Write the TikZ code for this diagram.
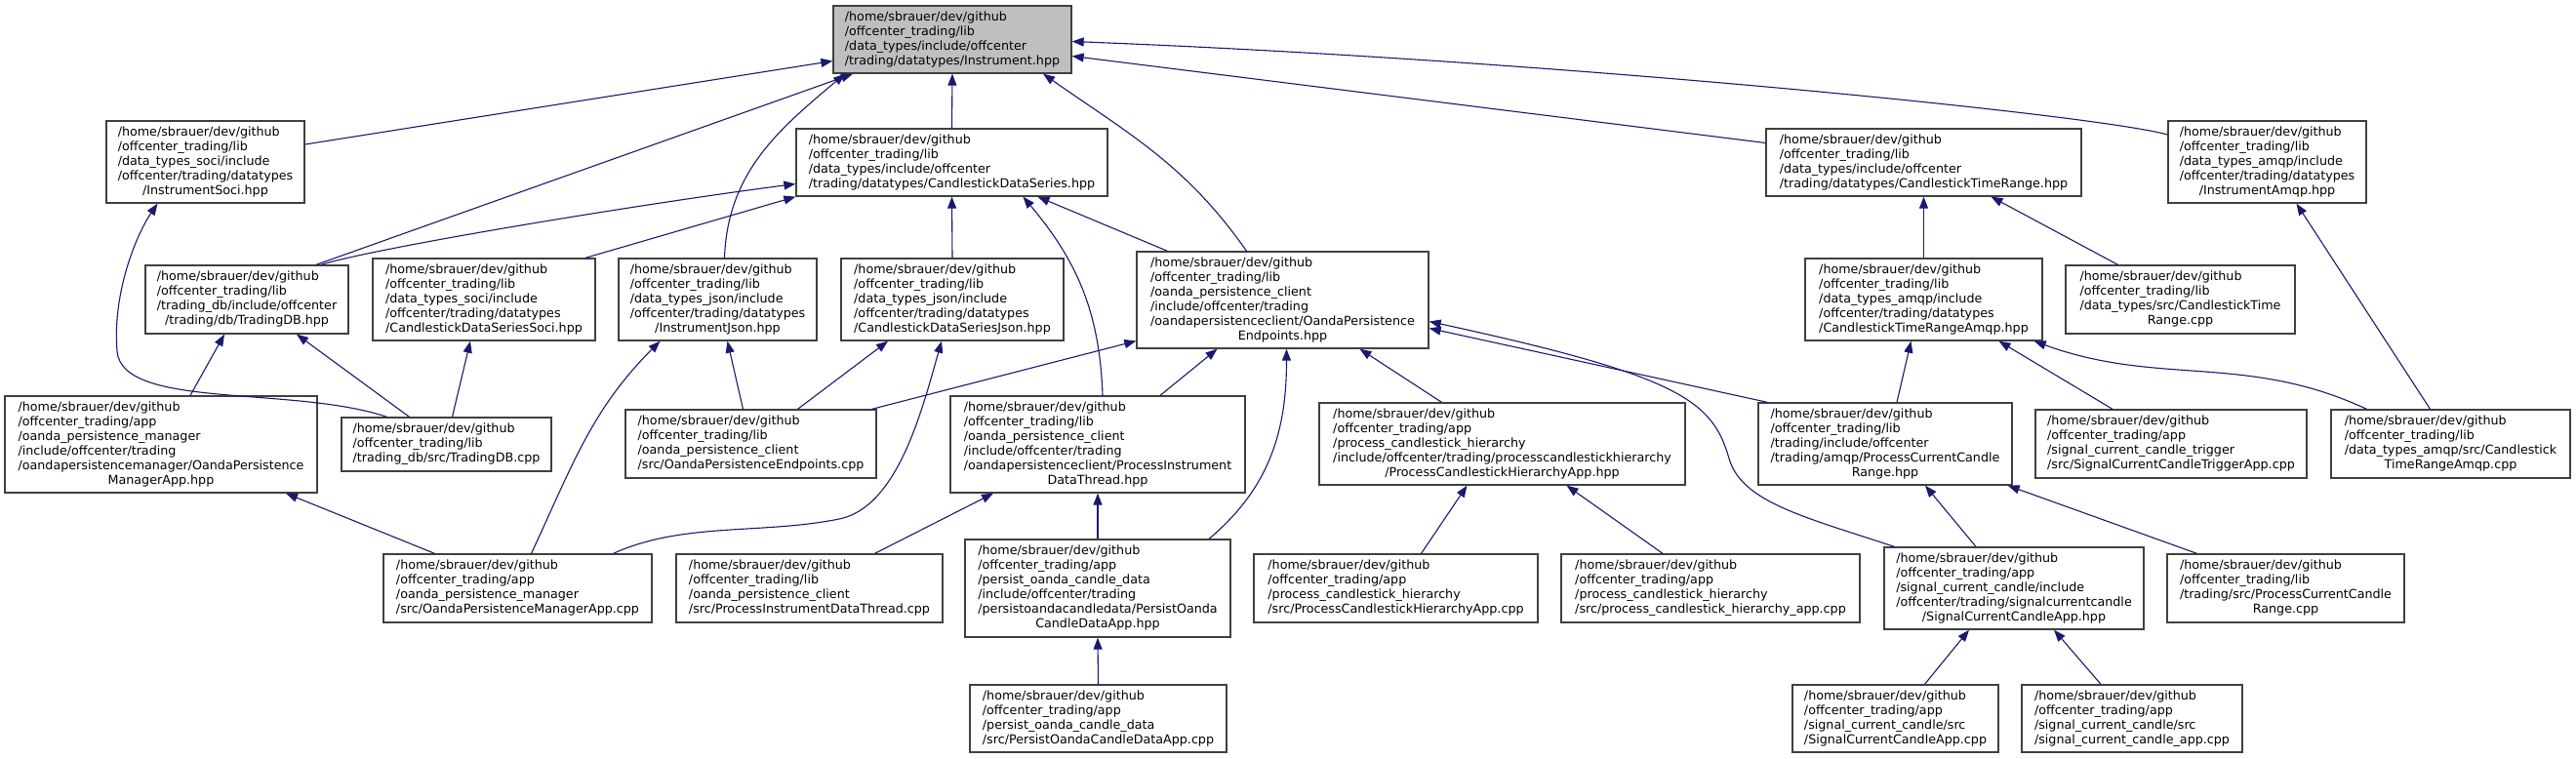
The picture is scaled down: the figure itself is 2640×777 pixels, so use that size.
\documentclass[tikz,border=0pt]{standalone}
\usepackage{fontspec}
\setmainfont{DejaVu Sans}
\usetikzlibrary{arrows.meta}
\definecolor{EdgeBlue}{HTML}{191970}
\definecolor{RootGray}{HTML}{BFBFBF}
\definecolor{BoxLine}{HTML}{404040}
\newcommand{\fpath}[2]{\begin{tabular}{@{}l@{}}/home/sbrauer/dev/github\\#1\\\multicolumn{1}{@{}c@{}}{#2}\end{tabular}}

\begin{document}
\begin{tikzpicture}[x=1pt,y=-1pt,
    file/.style 2 args={draw=BoxLine,fill=white,line width=1.3pt,inner sep=0pt,
      minimum width=#1,minimum height=#2,font=\fontsize{12.7}{15}\selectfont},
    root/.style 2 args={file={#1}{#2},fill=RootGray},
    inc/.style={EdgeBlue,line width=1.1pt,-{Triangle[length=12pt,width=9pt]}}]
    \fill[white] (0,0) rectangle (2640,777);
    \useasboundingbox (0,0) rectangle (2640,777);
    % row 1
    \node[root={244pt}{69pt}] (inst) at (976,40.5) {\fpath{/offcenter\_trading/lib\\/data\_types/include/offcenter}{/trading/datatypes/Instrument.hpp}};
    % row 2
    \node[file={203pt}{84pt}] (isoci) at (210.5,166) {\fpath{/offcenter\_trading/lib\\/data\_types\_soci/include\\/offcenter/trading/datatypes}{/InstrumentSoci.hpp}};
    \node[file={319pt}{69pt}] (cds) at (975.5,166.5) {\fpath{/offcenter\_trading/lib\\/data\_types/include/offcenter}{/trading/datatypes/CandlestickDataSeries.hpp}};
    \node[file={323pt}{69pt}] (ctr) at (1971.5,166.5) {\fpath{/offcenter\_trading/lib\\/data\_types/include/offcenter}{/trading/datatypes/CandlestickTimeRange.hpp}};
    \node[file={203pt}{84pt}] (iamqp) at (2323.5,166) {\fpath{/offcenter\_trading/lib\\/data\_types\_amqp/include\\/offcenter/trading/datatypes}{/InstrumentAmqp.hpp}};
    % row 3
    \node[file={208pt}{70pt}] (tdbh) at (253,307) {\fpath{/offcenter\_trading/lib\\/trading\_db/include/offcenter}{/trading/db/TradingDB.hpp}};
    \node[file={228pt}{84pt}] (cdssoci) at (496,307) {\fpath{/offcenter\_trading/lib\\/data\_types\_soci/include\\/offcenter/trading/datatypes}{/CandlestickDataSeriesSoci.hpp}};
    \node[file={203pt}{84pt}] (ijson) at (735.5,307) {\fpath{/offcenter\_trading/lib\\/data\_types\_json/include\\/offcenter/trading/datatypes}{/InstrumentJson.hpp}};
    \node[file={228pt}{84pt}] (cdsjson) at (976,307) {\fpath{/offcenter\_trading/lib\\/data\_types\_json/include\\/offcenter/trading/datatypes}{/CandlestickDataSeriesJson.hpp}};
    \node[file={299pt}{99pt}] (opeh) at (1314.5,307.5) {\fpath{/offcenter\_trading/lib\\/oanda\_persistence\_client\\/include/offcenter/trading\\/oandapersistenceclient/OandaPersistence}{Endpoints.hpp}};
    \node[file={243pt}{84pt}] (ctramqph) at (1971.5,307) {\fpath{/offcenter\_trading/lib\\/data\_types\_amqp/include\\/offcenter/trading/datatypes}{/CandlestickTimeRangeAmqp.hpp}};
    \node[file={235pt}{70pt}] (ctrcpp) at (2234.5,307) {\fpath{/offcenter\_trading/lib\\/data\_types/src/CandlestickTime}{Range.cpp}};
    % row 4
    \node[file={320pt}{99pt}] (opmh) at (165,455.5) {\fpath{/offcenter\_trading/app\\/oanda\_persistence\_manager\\/include/offcenter/trading\\/oandapersistencemanager/OandaPersistence}{ManagerApp.hpp}};
    \node[file={215pt}{55pt}] (tdbcpp) at (457.5,455.5) {\fpath{/offcenter\_trading/lib}{/trading\_db/src/TradingDB.cpp}};
    \node[file={257pt}{70pt}] (opecpp) at (769.5,455) {\fpath{/offcenter\_trading/lib\\/oanda\_persistence\_client}{/src/OandaPersistenceEndpoints.cpp}};
    \node[file={302pt}{99pt}] (pidth) at (1125,455.5) {\fpath{/offcenter\_trading/lib\\/oanda\_persistence\_client\\/include/offcenter/trading\\/oandapersistenceclient/ProcessInstrument}{DataThread.hpp}};
    \node[file={375pt}{84pt}] (pchh) at (1539.5,455) {\fpath{/offcenter\_trading/app\\/process\_candlestick\_hierarchy\\/include/offcenter/trading/processcandlestickhierarchy}{/ProcessCandlestickHierarchyApp.hpp}};
    \node[file={260pt}{84pt}] (pccrh) at (1932,455) {\fpath{/offcenter\_trading/lib\\/trading/include/offcenter\\/trading/amqp/ProcessCurrentCandle}{Range.hpp}};
    \node[file={278pt}{70pt}] (scctcpp) at (2225,455) {\fpath{/offcenter\_trading/app\\/signal\_current\_candle\_trigger}{/src/SignalCurrentCandleTriggerApp.cpp}};
    \node[file={245pt}{70pt}] (ctramqpcpp) at (2511.5,455) {\fpath{/offcenter\_trading/lib\\/data\_types\_amqp/src/Candlestick}{TimeRangeAmqp.cpp}};
    % row 5
    \node[file={275pt}{70pt}] (opmcpp) at (530.5,603) {\fpath{/offcenter\_trading/app\\/oanda\_persistence\_manager}{/src/OandaPersistenceManagerApp.cpp}};
    \node[file={273pt}{70pt}] (pidtcpp) at (829.5,603) {\fpath{/offcenter\_trading/lib\\/oanda\_persistence\_client}{/src/ProcessInstrumentDataThread.cpp}};
    \node[file={272pt}{100pt}] (poh) at (1125,603) {\fpath{/offcenter\_trading/app\\/persist\_oanda\_candle\_data\\/include/offcenter/trading\\/persistoandacandledata/PersistOanda}{CandleDataApp.hpp}};
    \node[file={291pt}{70pt}] (pchcpp) at (1430.5,603) {\fpath{/offcenter\_trading/app\\/process\_candlestick\_hierarchy}{/src/ProcessCandlestickHierarchyApp.cpp}};
    \node[file={306pt}{70pt}] (pchappcpp) at (1753,603) {\fpath{/offcenter\_trading/app\\/process\_candlestick\_hierarchy}{/src/process\_candlestick\_hierarchy\_app.cpp}};
    \node[file={266pt}{84pt}] (scch) at (2064,603) {\fpath{/offcenter\_trading/app\\/signal\_current\_candle/include\\/offcenter/trading/signalcurrentcandle}{/SignalCurrentCandleApp.hpp}};
    \node[file={243pt}{70pt}] (pccrcpp) at (2342.5,603) {\fpath{/offcenter\_trading/lib\\/trading/src/ProcessCurrentCandle}{Range.cpp}};
    % row 6
    \node[file={263pt}{69pt}] (pocpp) at (1125.5,736.5) {\fpath{/offcenter\_trading/app\\/persist\_oanda\_candle\_data}{/src/PersistOandaCandleDataApp.cpp}};
    \node[file={211pt}{69pt}] (scccpp) at (1942.5,736.5) {\fpath{/offcenter\_trading/app\\/signal\_current\_candle/src}{/SignalCurrentCandleApp.cpp}};
    \node[file={226pt}{69pt}] (sccappcpp) at (2185,736.5) {\fpath{/offcenter\_trading/app\\/signal\_current\_candle/src}{/signal\_current\_candle\_app.cpp}};
    % includes into Instrument.hpp
    \draw[inc] ([yshift=18pt]isoci.east) -- ([yshift=-22pt]inst.west);
    \draw[inc] ([xshift=71pt]tdbh.north) -- ([xshift=-102pt]inst.south);
    \draw[inc] ([xshift=7pt]ijson.north) to[out=88,in=-140] ([xshift=-110pt]inst.south);
    \draw[inc] (cds.north) -- (inst.south);
    \draw[inc] ([xshift=-37pt]opeh.north) to[out=125,in=-35] ([xshift=93pt]inst.south);
    \draw[inc] ([yshift=20pt]ctr.west) -- ([yshift=-17pt]inst.east);
    \draw[inc] ([yshift=28pt]iamqp.west) .. controls (2150,118) and (1600,62) .. ([yshift=-2pt]inst.east);
    % CandlestickDataSeries.hpp
    \draw[inc] ([xshift=76pt]tdbh.north) .. controls (385,254) and (650,210) .. ([yshift=-22pt]cds.west);
    \draw[inc] ([xshift=104pt]cdssoci.north) -- (cds.south west);
    \draw[inc] (cdsjson.north) -- (cds.south);
    \draw[inc] ([xshift=5pt]pidth.north) to[out=92,in=-50] ([xshift=73pt]cds.south);
    \draw[inc] ([xshift=-118pt]opeh.north) -- ([xshift=88pt]cds.south);
    % left part
    \draw[inc] ([xshift=-61pt]tdbcpp.north) .. controls (300,395) and (125,420) .. (120,360)
      .. controls (115,300) and (140,240) .. ([xshift=-49pt]isoci.south);
    \draw[inc] ([xshift=30pt]opmh.north) -- ([xshift=-23pt]tdbh.south);
    \draw[inc] ([xshift=-38pt]tdbcpp.north) -- ([xshift=51pt]tdbh.south);
    \draw[inc] ([xshift=6pt]tdbcpp.north) -- ([xshift=-14pt]cdssoci.south);
    \draw[inc] ([xshift=14pt]opmcpp.north) to[out=65,in=-135] ([xshift=-59pt]ijson.south);
    \draw[inc] ([xshift=-8pt]opecpp.north) -- ([xshift=10pt]ijson.south);
    \draw[inc] ([xshift=48pt]opecpp.north) -- ([xshift=-66pt]cdsjson.south);
    \draw[inc] ([xshift=98pt]opmcpp.north) .. controls (700,535) and (780,548) .. (860,532)
      .. controls (920,520) and (945,420) .. ([xshift=-11pt]cdsjson.south);
    \draw[inc] ([xshift=-85pt]opmcpp.north) -- ([xshift=128pt]opmh.south);
    % OandaPersistenceEndpoints.hpp
    \draw[inc] ([xshift=124pt]opecpp.north) -- ([yshift=-42pt]opeh.west);
    \draw[inc] ([xshift=64pt]pidth.north) -- ([xshift=-67pt]opeh.south);
    \draw[inc] ([xshift=114pt]poh.north) to[out=40,in=-90] ([xshift=4pt]opeh.south);
    \draw[inc] ([xshift=-62pt]pchh.north) -- ([xshift=79pt]opeh.south);
    \draw[inc] ([xshift=10pt]pccrh.north west) -- ([yshift=-29pt]opeh.east);
    \draw[inc] ([xshift=11pt]scch.north west) .. controls (1850,530) and (1785,515) .. (1772,470)
      .. controls (1755,410) and (1720,385) .. ([yshift=-22pt]opeh.east);
    \draw[inc] ([xshift=67pt]pidtcpp.north) -- ([xshift=-107pt]pidth.south);
    \draw[inc] (poh.north) -- (pidth.south);
    \draw[inc] (pocpp.north) -- (poh.south);
    \draw[inc] ([xshift=26pt]pchcpp.north) -- ([xshift=-36pt]pchh.south);
    \draw[inc] ([xshift=-49pt]pchappcpp.north) -- ([xshift=66pt]pchh.south);
    % CandlestickTimeRange side
    \draw[inc] (ctramqph.north) -- (ctr.south);
    \draw[inc] ([xshift=-64pt]ctrcpp.north) -- ([xshift=69pt]ctr.south);
    \draw[inc] ([xshift=12pt]pccrh.north) -- ([xshift=-13pt]ctramqph.south);
    \draw[inc] ([xshift=-60pt]scctcpp.north) -- ([xshift=77pt]ctramqph.south);
    \draw[inc] ([xshift=-86pt]ctramqpcpp.north) to[out=155,in=-20] ([xshift=-9pt]ctramqph.south east);
    \draw[inc] ([xshift=-21pt]ctramqpcpp.north) -- ([xshift=30pt]iamqp.south);
    \draw[inc] ([xshift=-39pt]scch.north) -- ([xshift=41pt]pccrh.south);
    \draw[inc] ([xshift=-91pt]pccrcpp.north) -- ([xshift=-5pt]pccrh.south east);
    \draw[inc] ([xshift=30pt]scccpp.north) -- ([xshift=-46pt]scch.south);
    \draw[inc] ([xshift=-32pt]sccappcpp.north) -- ([xshift=41pt]scch.south);
\end{tikzpicture}
\end{document}
